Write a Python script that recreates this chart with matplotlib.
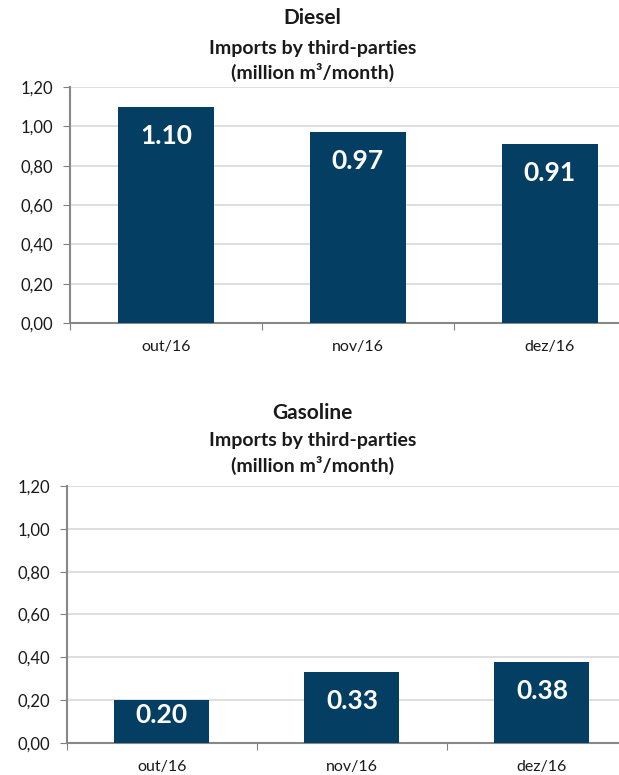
import matplotlib.pyplot as plt
import numpy as np

months = ['out/16', 'nov/16', 'dez/16']
diesel = [1.10, 0.97, 0.91]
gasoline = [0.20, 0.33, 0.38]
yticks = [0.0, 0.2, 0.4, 0.6, 0.8, 1.0, 1.2]

plt.rcParams['font.family'] = ['Lato', 'DejaVu Sans']
plt.rcParams['text.color'] = '#1A1A1A'
bar_color = '#043F63'

fig = plt.figure(figsize=(6.19, 7.75), dpi=100)


def draw(ax, vals):
    x = np.arange(len(vals))
    ax.bar(x, vals, width=0.5, color=bar_color, zorder=3)
    ax.set_xlim(-0.5, len(vals) - 0.5)
    ax.set_ylim(0, 1.2)
    ax.set_yticks(yticks)
    ax.set_yticklabels([('%.2f' % v).replace('.', ',') for v in yticks])
    ax.yaxis.grid(True, color='#D9D9D9', linewidth=1.2, zorder=0)
    ax.set_axisbelow(True)
    ax.set_xticks(np.arange(-0.5, len(vals), 1.0))
    ax.set_xticklabels([])
    ax.set_xticks(x, minor=True)
    ax.set_xticklabels(months, minor=True)
    ax.tick_params(axis='x', which='minor', length=0, pad=12, labelsize=11.5, labelcolor='#1A1A1A')
    ax.tick_params(axis='x', which='major', length=5, color='#808080')
    ax.tick_params(axis='y', length=5, color='#808080', labelsize=12, pad=7, labelcolor='#1A1A1A')
    for s in ['top', 'right']:
        ax.spines[s].set_visible(False)
    for s in ['left', 'bottom']:
        ax.spines[s].set_color('#888888')
        ax.spines[s].set_linewidth(1.5)
    for xi, v in zip(x, vals):
        off = -21 if v > 0.3 else -11
        ax.annotate('%.2f' % v, (xi, v), xytext=(0, off), textcoords='offset points',
                    ha='center', va='center', color='white', fontsize=19, fontweight='bold')


ax1 = fig.add_axes([0.113, 0.5832, 0.930, 0.3045])
draw(ax1, diesel)
ax2 = fig.add_axes([0.108, 0.0413, 0.921, 0.3316])
draw(ax2, gasoline)

fig.text(0.505, 0.977, 'Diesel', ha='center', va='center', fontsize=15, fontweight='bold')
fig.text(0.505, 0.938, 'Imports by third-parties', ha='center', va='center', fontsize=14, fontweight='bold')
fig.text(0.505, 0.906, '(million m³/month)', ha='center', va='center', fontsize=14, fontweight='bold')
fig.text(0.505, 0.467, 'Gasoline', ha='center', va='center', fontsize=15, fontweight='bold')
fig.text(0.505, 0.432, 'Imports by third-parties', ha='center', va='center', fontsize=14, fontweight='bold')
fig.text(0.505, 0.399, '(million m³/month)', ha='center', va='center', fontsize=14, fontweight='bold')

fig.savefig('out.png', dpi=100)
